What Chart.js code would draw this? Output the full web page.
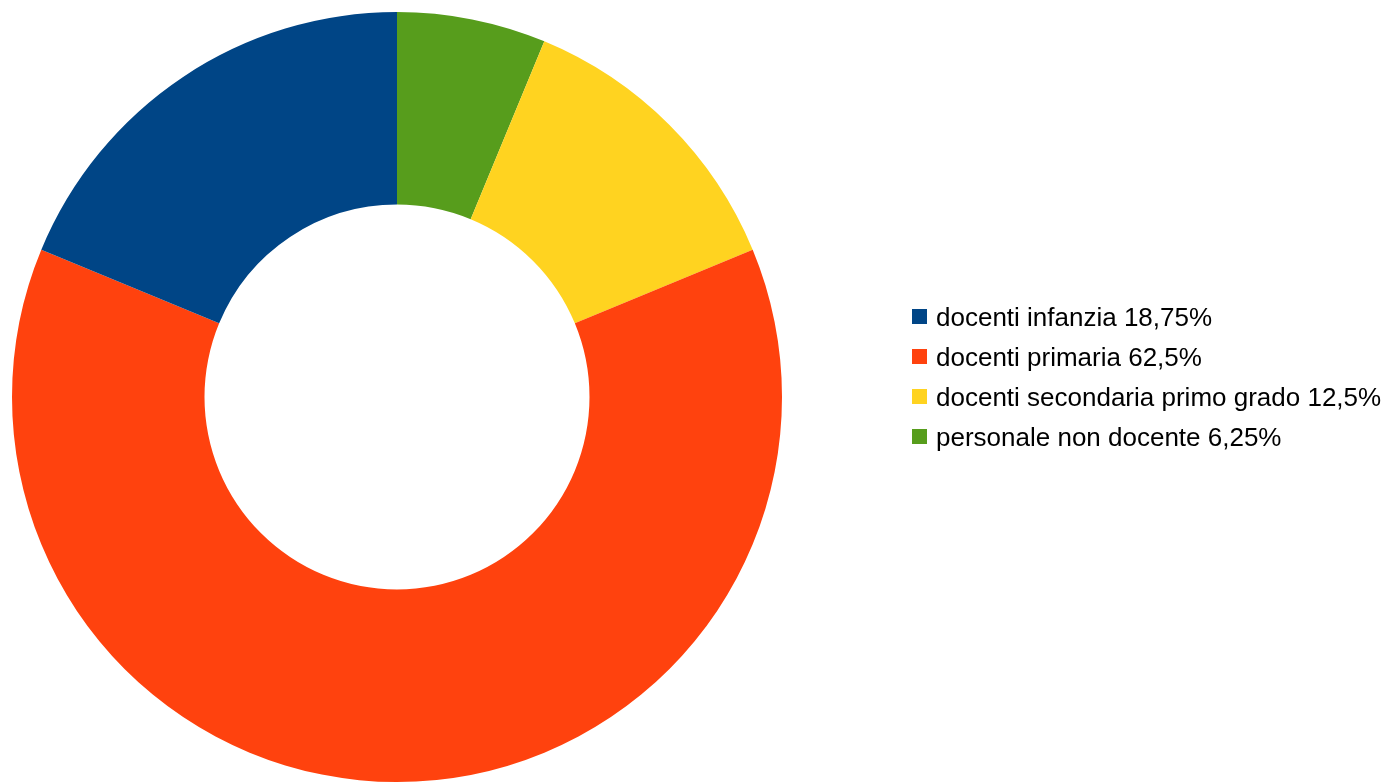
<!DOCTYPE html>
<html>
<head>
<meta charset="utf-8">
<script src="https://cdn.jsdelivr.net/npm/chart.js@4"></script>
<style>
  html, body { margin: 0; padding: 0; background: #fff; }
  #wrap { position: relative; width: 1382px; height: 782px; }
  #legend { position: absolute; left: 912px; top: 297px; font-family: "Liberation Sans", Arial, sans-serif; font-size: 26px; color: #000; }
  #legend div { height: 40px; line-height: 40px; white-space: nowrap; }
  #legend span.box { display: inline-block; width: 15px; height: 15px; margin-right: 9px; vertical-align: 2px; }
</style>
</head>
<body>
<div id="wrap">
  <canvas id="donut" width="1382" height="782"></canvas>
  <div id="legend"></div>
</div>
<script>
// dati (ordine della legenda)
const categories = ['docenti infanzia', 'docenti primaria', 'docenti secondaria primo grado', 'personale non docente'];
const percentages = [18.75, 62.5, 12.5, 6.25];
const percentLabels = ['18,75%', '62,5%', '12,5%', '6,25%'];
const colors = ['#004586', '#ff420e', '#ffd320', '#579d1c'];

// la ciambella parte dall'alto con l'ultima voce, quindi invertiamo
var data = {
  labels: categories.slice().reverse(),
  datasets: [{
    data: percentages.slice().reverse(),
    backgroundColor: colors.slice().reverse(),
    borderWidth: 0
  }]
};

var options = {
  responsive: false,
  animation: false,
  cutout: '50%',
  layout: {
    padding: { left: 11, top: 12, right: 599, bottom: 0 }
  },
  plugins: {
    legend: { display: false },
    tooltip: { enabled: false }
  }
};

var ctx = document.getElementById('donut').getContext('2d');
var donut = new Chart(ctx, {
  type: 'doughnut',
  data: data,
  options: options
});

// legenda in HTML
var legend = document.getElementById('legend');
categories.forEach(function (c, i) {
  var row = document.createElement('div');
  var box = document.createElement('span');
  box.className = 'box';
  box.style.background = colors[i];
  row.appendChild(box);
  row.appendChild(document.createTextNode(c + ' ' + percentLabels[i]));
  legend.appendChild(row);
});
</script>
</body>
</html>
